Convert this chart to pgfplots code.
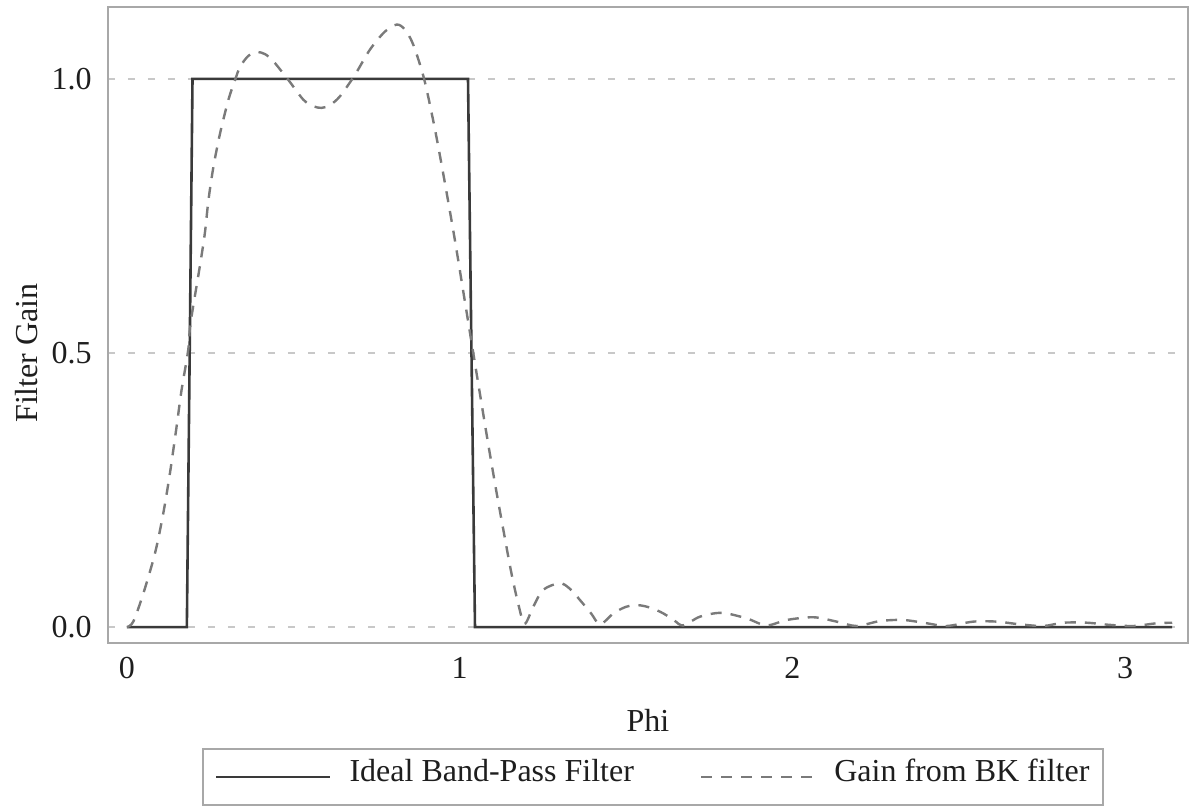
\documentclass[border=0pt]{standalone}
\usepackage{pgfplots}
\pgfplotsset{compat=1.18}
\usepackage{fontspec}
\setmainfont{Liberation Serif}
\definecolor{axgray}{HTML}{A8A8A8}
\definecolor{gridgray}{HTML}{C8C8C8}
\definecolor{idealc}{HTML}{3A3A3A}
\definecolor{bkc}{HTML}{7A7A7A}
\definecolor{txt}{HTML}{1E1E1E}
\newcommand\ff{\fontsize{16bp}{19bp}\selectfont}
\begin{document}
\begin{tikzpicture}
\begin{axis}[
  scale only axis, width=540bp, height=318bp,
  xmin=-0.057, xmax=3.189, ymin=-0.029, ymax=1.131,
  axis line style={draw=axgray, line width=1bp},
  xtick={0,1,2,3}, ytick={0,0.5,1},
  major tick length=0pt,
  ymajorgrids,
  grid style={gridgray, line width=0.75bp, dash pattern=on 3.5bp off 6.5bp},
  font=\ff, text=txt,
  /pgf/number format/assume math mode=true,
  xticklabel style={anchor=north, inner sep=0pt, yshift=-7bp, font=\ff},
  yticklabel style={anchor=east, inner sep=0pt, xshift=-8bp, font=\ff,
     /pgf/number format/.cd, fixed, fixed zerofill, precision=1},
  xlabel={Phi}, ylabel={Filter Gain},
  xlabel style={at={(axis description cs:0.5,-0.1211)}, anchor=center, font=\ff},
  ylabel style={at={(axis description cs:-0.075,0.456)}, anchor=center, font=\ff},
  legend columns=2,
  legend cell align=left,
  legend image code/.code={\draw[#1] (0bp,0bp) -- (57bp,0bp);},
  legend style={at={(axis description cs:0.0870,-0.1651)}, anchor=north west,
     draw=axgray, line width=1bp, font=\ff, text=txt,
     inner xsep=6bp, inner ysep=8bp,
     nodes={inner sep=1bp, text depth=0.25em, text height=0.75em},
     /tikz/every odd column/.append style={column sep=8bp},
     /tikz/every even column/.append style={column sep=32bp}},
]
\addplot[idealc, line width=1.3bp, sharp plot] coordinates {
(0,0) (0.18,0) (0.197,1) (1.025,1) (1.046,0) (3.1416,0)};
\addlegendentry{Ideal Band-Pass Filter}
\addplot[bkc, line width=1.2bp, dash pattern=on 5.5bp off 4.5bp, smooth, tension=0.5] coordinates {
(0.000,0.000) (0.019,0.010) (0.049,0.061) (0.084,0.134) (0.109,0.207)
(0.129,0.280) (0.149,0.365) (0.164,0.432) (0.184,0.505) (0.191,0.554)
(0.219,0.658) (0.234,0.718) (0.245,0.779) (0.260,0.840) (0.280,0.901)
(0.305,0.962) (0.325,0.998) (0.340,1.022) (0.365,1.042) (0.390,1.049)
(0.415,1.045) (0.440,1.032) (0.485,0.998) (0.530,0.962) (0.560,0.950)
(0.585,0.947) (0.610,0.952) (0.640,0.968) (0.685,1.007) (0.730,1.053)
(0.775,1.086) (0.811,1.099) (0.835,1.090) (0.860,1.063) (0.893,1.000)
(0.925,0.910) (0.955,0.812) (0.985,0.708) (1.010,0.615) (1.040,0.503)
(1.061,0.425) (1.086,0.333) (1.111,0.245) (1.135,0.165) (1.155,0.100)
(1.175,0.045) (1.195,0.006) (1.221,0.037) (1.251,0.068) (1.301,0.080)
(1.331,0.070) (1.362,0.049) (1.395,0.025) (1.422,0.005) (1.462,0.025)
(1.500,0.037) (1.537,0.040) (1.575,0.035) (1.612,0.025) (1.645,0.012)
(1.672,0.003) (1.722,0.019) (1.787,0.026) (1.862,0.016) (1.922,0.003)
(1.983,0.013) (2.063,0.018) (2.133,0.010) (2.193,0.002) (2.263,0.011)
(2.333,0.013) (2.404,0.007) (2.464,0.002) (2.544,0.010) (2.614,0.010)
(2.684,0.005) (2.754,0.002) (2.814,0.008) (2.885,0.008) (2.955,0.004)
(3.025,0.002) (3.095,0.007) (3.1416,0.008)};
\addlegendentry{Gain from BK filter}
\end{axis}
\pgfresetboundingbox
\path[use as bounding box] (-54bp,-82.5bp) rectangle (540.5bp,321.5bp);
\end{tikzpicture}
\end{document}
